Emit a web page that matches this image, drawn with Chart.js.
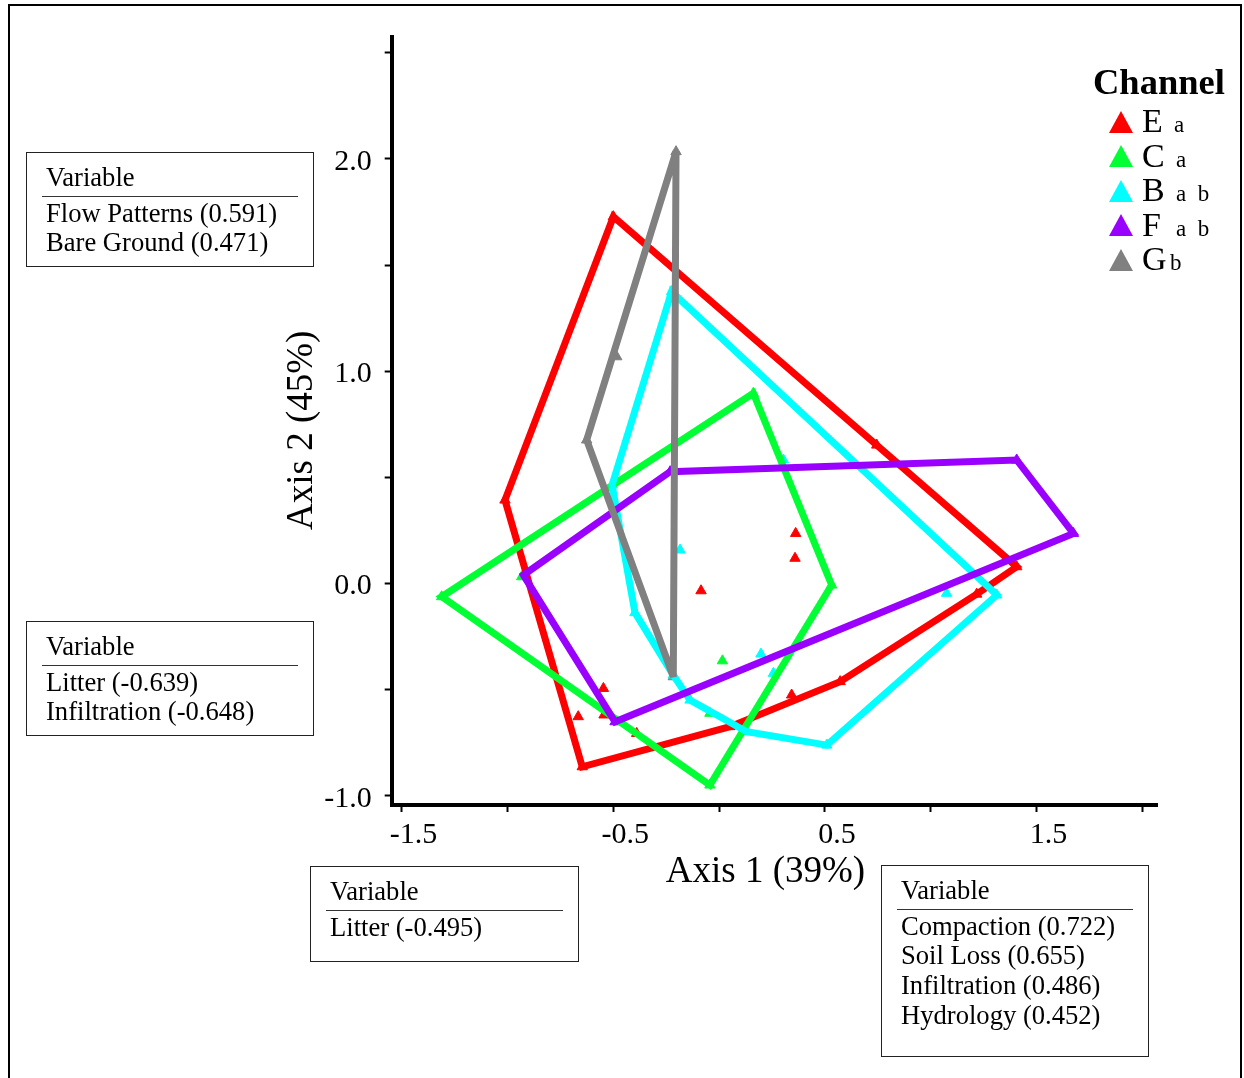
<!DOCTYPE html>
<html>
<head>
<meta charset="utf-8">
<title>Channel ordination</title>
<script src="https://cdn.jsdelivr.net/npm/chart.js@4/dist/chart.umd.min.js"></script>
<style>
  html, body { margin: 0; padding: 0; background: #fff; }
  #page { position: relative; width: 1244px; height: 1078px; overflow: hidden;
          font-family: 'Liberation Serif', 'Times New Roman', serif; color: #000; }
  #frame { position: absolute; left: 8px; top: 4px; width: 1230px; height: 1100px; border: 2px solid #000; }
  #c { position: absolute; left: 0; top: 0; }
  .box { position: absolute; border: 1px solid #222; box-sizing: border-box; }
  .rule { position: absolute; height: 0; border-top: 1.5px solid #333; }
  .t { position: absolute; white-space: nowrap; }
</style>
</head>
<body>
<div id="page">
  <div id="frame"></div>
  <canvas id="c" width="1244" height="1078"></canvas>
  <div id="overlay"></div>
</div>
<script>
// ---- Channel groups and their significance letters ----
const channels = ['E', 'C', 'B', 'F', 'G'];
const groupLetters = ['a', 'a', 'a b', 'a b', 'b'];
const legendTitle = 'Channel';

// ---- Site scores on the two ordination axes, per channel ----
const eAxis1 = [-0.499, 1.406, 0.572, -0.646, -1.011, 0.745, 1.217, 0.343, 0.052, 0.362, 0.359, -0.085, -0.546, -0.665, -0.543, -0.389];
const eAxis2 = [1.728, 0.079, -0.462, -0.863, 0.393, 0.652, -0.050, -0.525, -0.674, 0.236, 0.119, -0.034, -0.494, -0.627, -0.619, -0.706];

const cAxis1 = [0.162, 0.532, -0.043, -1.310, 0.016, -0.043, -0.932];
const cAxis2 = [0.896, -0.007, -0.949, -0.062, -0.364, -0.611, 0.032];

const bAxis1 = [-0.224, 1.312, 0.509, 0.131, -0.137, -0.216, -0.397, -0.505, -0.184, 0.198, 1.075, 0.304, 0.257];
const bAxis2 = [1.375, -0.054, -0.761, -0.698, -0.549, -0.431, -0.137, 0.464, 0.158, -0.332, -0.046, 0.582, -0.423];

const fAxis1 = [1.406, 1.674, -0.491, -0.924, -0.231];
const fAxis2 = [0.582, 0.236, -0.651, 0.040, 0.527];

const gAxis1 = [-0.203, -0.483, -0.625, -0.216];
const gAxis2 = [2.034, 1.068, 0.676, -0.439];

// ---- Axis ticks and titles ----
const xTickValues = [-1.5, -1.0, -0.5, 0.0, 0.5, 1.0, 1.5, 2.0];
const xTickLabels = ['-1.5', '', '-0.5', '', '0.5', '', '1.5', ''];
const yTickValues = [-1.0, -0.5, 0.0, 0.5, 1.0, 1.5, 2.0, 2.5];
const yTickLabels = ['-1.0', '', '0.0', '', '1.0', '', '2.0', ''];
const axis1Title = 'Axis 1 (39%)';
const axis2Title = 'Axis 2 (45%)';

// ---- Variable loadings shown beside the axes ----
const boxHeader = 'Variable';
const loadingsUpperLeft = ['Flow Patterns (0.591)', 'Bare Ground (0.471)'];
const loadingsLowerLeft = ['Litter (-0.639)', 'Infiltration (-0.648)'];
const loadingsBottomLeft = ['Litter (-0.495)'];
const loadingsBottomRight = ['Compaction (0.722)', 'Soil Loss (0.655)', 'Infiltration (0.486)', 'Hydrology (0.452)'];

// ---- Styling ----
const channelColors = ['#ff0000', '#00ff33', '#00ffff', '#9900ff', '#808080'];
const serif = "'Liberation Serif', 'Times New Roman', serif";

const scoreSets = [
  [eAxis1, eAxis2], [cAxis1, cAxis2], [bAxis1, bAxis2], [fAxis1, fAxis2], [gAxis1, gAxis2]
];

// Convex hull (monotone chain) around a channel's sites
function convexHull(pts) {
  const p = pts.slice().sort((a, b) => a.x - b.x || a.y - b.y);
  const cross = (o, a, b) => (a.x - o.x) * (b.y - o.y) - (a.y - o.y) * (b.x - o.x);
  const lower = [];
  for (const q of p) {
    while (lower.length >= 2 && cross(lower[lower.length - 2], lower[lower.length - 1], q) <= 0) lower.pop();
    lower.push(q);
  }
  const upper = [];
  for (let i = p.length - 1; i >= 0; i--) {
    const q = p[i];
    while (upper.length >= 2 && cross(upper[upper.length - 2], upper[upper.length - 1], q) <= 0) upper.pop();
    upper.push(q);
  }
  upper.pop(); lower.pop();
  return lower.concat(upper);
}

const datasets = [];
channels.forEach((name, i) => {
  const [ax1, ax2] = scoreSets[i];
  const pts = ax1.map((v, k) => ({ x: v, y: ax2[k] }));
  const hull = convexHull(pts);
  // repeat the first edge so the closing corner gets a proper join
  const ring = hull.concat([hull[0], hull[1]]);
  datasets.push({
    label: name + ' hull',
    data: ring,
    showLine: true,
    fill: false,
    tension: 0,
    borderColor: channelColors[i],
    borderWidth: 7,
    borderJoinStyle: 'miter',
    borderCapStyle: 'butt',
    pointRadius: 0,
    pointHoverRadius: 0,
    order: 5 - i
  });
  datasets.push({
    label: name,
    data: pts,
    showLine: false,
    pointStyle: 'triangle',
    pointRadius: 6,
    pointHoverRadius: 6,
    backgroundColor: channelColors[i],
    borderColor: channelColors[i],
    borderWidth: 1,
    order: 10
  });
});

// Limit miter spikes at the very acute hull corners
const miterPlugin = {
  id: 'miterLimit',
  beforeDatasetsDraw(chart) { chart.ctx.save(); chart.ctx.miterLimit = 2.5; },
  afterDatasetsDraw(chart) { chart.ctx.restore(); }
};

Chart.defaults.font.family = serif;
Chart.defaults.color = '#000';

new Chart(document.getElementById('c'), {
  type: 'scatter',
  data: { datasets },
  plugins: [miterPlugin],
  options: {
    responsive: false,
    animation: false,
    devicePixelRatio: 1,
    layout: { padding: { left: 276, top: 37, right: 86.3, bottom: 178 } },
    plugins: { legend: { display: false }, tooltip: { enabled: false } },
    events: [],
    scales: {
      x: {
        type: 'linear',
        position: 'bottom',
        min: -1.546,
        max: 2.072,
        afterBuildTicks: s => { s.ticks = xTickValues.map(v => ({ value: v })); },
        afterFit: s => { s.height = 95; },
        ticks: {
          autoSkip: false, maxRotation: 0, minRotation: 0,
          padding: 5, labelOffset: 12, color: '#000',
          font: { size: 30 },
          callback: (v, i) => xTickLabels[i]
        },
        grid: { drawOnChartArea: false, drawTicks: true, tickLength: 7, tickWidth: 2, tickColor: '#000', color: '#000' },
        border: { display: true, color: '#000', width: 4 },
        title: { display: true, text: axis1Title + '  ', color: '#000', font: { size: 37 }, padding: { top: 0, bottom: 6 } }
      },
      y: {
        type: 'linear',
        position: 'left',
        min: -1.043,
        max: 2.574,
        afterBuildTicks: s => { s.ticks = yTickValues.map(v => ({ value: v })); },
        afterFit: s => { s.width = 115.7; },
        ticks: {
          autoSkip: false, padding: 13, labelOffset: 3, color: '#000',
          font: { size: 30 },
          callback: (v, i) => yTickLabels[i]
        },
        grid: { drawOnChartArea: false, drawTicks: true, tickLength: 7, tickWidth: 2, tickColor: '#000', color: '#000' },
        border: { display: true, color: '#000', width: 4 },
        title: { display: true, text: axis2Title + '  ', color: '#000', font: { size: 37 }, padding: { top: 4, bottom: 0 } }
      }
    }
  }
});

// ---- Text overlays: loadings boxes and channel legend ----
const overlay = document.getElementById('overlay');

// place a text run so that its baseline sits at the given y
function addText(str, x, baseline, size, weight) {
  const el = document.createElement('div');
  el.className = 't';
  el.textContent = str;
  el.style.left = x + 'px';
  el.style.top = (baseline - 0.8375 * size) + 'px';
  el.style.fontSize = size + 'px';
  el.style.lineHeight = size + 'px';
  if (weight) el.style.fontWeight = weight;
  overlay.appendChild(el);
}

function addBox(rows, left, top, width, height) {
  const b = document.createElement('div');
  b.className = 'box';
  Object.assign(b.style, { left: left + 'px', top: top + 'px', width: width + 'px', height: height + 'px' });
  overlay.appendChild(b);
  addText(boxHeader, left + 20, top + 34.5, 26.6);
  const r = document.createElement('div');
  r.className = 'rule';
  Object.assign(r.style, { left: (left + 16) + 'px', top: (top + 43.5) + 'px', width: (width - 32) + 'px' });
  overlay.appendChild(r);
  rows.forEach((txt, k) => addText(txt, left + 20, top + 70 + 29.7 * k, 26.6));
}

addBox(loadingsUpperLeft, 26, 152, 288, 115);
addBox(loadingsLowerLeft, 26, 621, 288, 115);
addBox(loadingsBottomLeft, 310, 866, 269, 96);
addBox(loadingsBottomRight, 881, 865, 268, 192);

// legend
addText(legendTitle, 1093, 95, 36.5, 'bold');
const svgNS = 'http://www.w3.org/2000/svg';
const smallX = [1174, 1176, 1176, 1176, 1170];
channels.forEach((name, i) => {
  const base = 132.7 + 34.5 * i;
  const svg = document.createElementNS(svgNS, 'svg');
  svg.setAttribute('width', '24');
  svg.setAttribute('height', '22');
  svg.style.position = 'absolute';
  svg.style.left = '1109px';
  svg.style.top = (base - 22) + 'px';
  const tri = document.createElementNS(svgNS, 'polygon');
  tri.setAttribute('points', '12,0 24,22 0,22');
  tri.setAttribute('fill', channelColors[i]);
  svg.appendChild(tri);
  overlay.appendChild(svg);
  addText(name, 1142, base, 34);
  addText(groupLetters[i].replace(' ', '\u2002'), smallX[i], base, 23);
});
</script>
</body>
</html>
